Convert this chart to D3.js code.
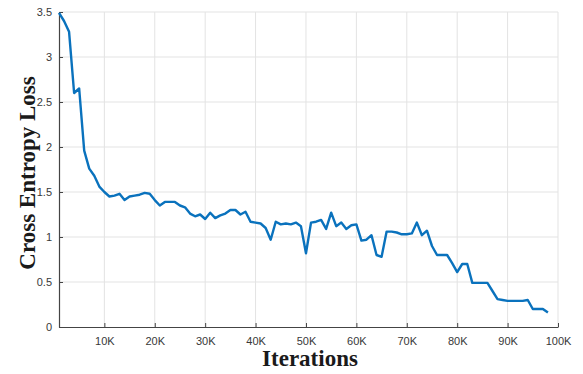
<!DOCTYPE html>
<html>
<head>
<meta charset="utf-8">
<script src="https://cdn.jsdelivr.net/npm/d3@7"></script>
<style>
  html, body { margin: 0; padding: 0; background: #fff; }
  svg { display: block; }
</style>
</head>
<body>
<svg id="chart" width="583" height="374"></svg>
<script>
// Training iterations (in thousands) and the recorded cross entropy loss
const iterations = d3.range(1, 99).map(k => k * 1000);
const loss = [
  3.49, 3.40, 3.28, 2.60, 2.65, 1.96, 1.76, 1.68, 1.56, 1.50,
  1.45, 1.46, 1.48, 1.41, 1.45, 1.46, 1.47, 1.49, 1.48, 1.41,
  1.35, 1.39, 1.39, 1.39, 1.35, 1.33, 1.26, 1.23, 1.25, 1.20,
  1.27, 1.21, 1.24, 1.26, 1.30, 1.30, 1.25, 1.28, 1.17, 1.16,
  1.15, 1.10, 0.97, 1.17, 1.14, 1.15, 1.14, 1.16, 1.12, 0.82,
  1.16, 1.17, 1.19, 1.09, 1.27, 1.12, 1.16, 1.09, 1.13, 1.14,
  0.96, 0.97, 1.02, 0.80, 0.78, 1.06, 1.06, 1.05, 1.03, 1.03,
  1.04, 1.16, 1.02, 1.07, 0.90, 0.80, 0.80, 0.80, 0.71, 0.61,
  0.70, 0.70, 0.49, 0.49, 0.49, 0.49, 0.40, 0.31, 0.30, 0.29,
  0.29, 0.29, 0.29, 0.30, 0.20, 0.20, 0.20, 0.16
];
const xTicks = [10000, 20000, 30000, 40000, 50000, 60000, 70000, 80000, 90000, 100000];
const yTicks = [0, 0.5, 1, 1.5, 2, 2.5, 3, 3.5];

const svg = d3.select("#chart");
const plotLeft = 59, plotRight = 558, plotTop = 12, plotBottom = 327;

const x = d3.scaleLinear().domain([1000, 100000]).range([plotLeft, plotRight]);
const y = d3.scaleLinear().domain([0, 3.5]).range([plotBottom, plotTop]);

// grid
const grid = svg.append("g");
grid.selectAll("line.vg").data(xTicks).join("line")
  .attr("x1", d => x(d)).attr("x2", d => x(d))
  .attr("y1", plotTop).attr("y2", plotBottom)
  .attr("stroke", "#e3e3e3").attr("stroke-width", 1);
grid.selectAll("line.hg").data(yTicks.filter(d => d > 0)).join("line")
  .attr("x1", plotLeft).attr("x2", plotRight)
  .attr("y1", d => y(d)).attr("y2", d => y(d))
  .attr("stroke", "#e3e3e3").attr("stroke-width", 1);

// axes (ticks point inward)
const fmtK = d => (d / 1000) + "K";
const xAxis = svg.append("g").attr("transform", `translate(0,${plotBottom})`)
  .call(d3.axisBottom(x).tickValues(xTicks).tickFormat(fmtK).tickSizeInner(-4).tickSizeOuter(0).tickPadding(10));
const yAxis = svg.append("g").attr("transform", `translate(${plotLeft},0)`)
  .call(d3.axisLeft(y).tickValues(yTicks).tickFormat(d3.format("~g")).tickSizeInner(-4).tickSizeOuter(0).tickPadding(7));

[xAxis, yAxis].forEach(a => {
  a.select(".domain").attr("stroke", "#444").attr("stroke-width", 1.2);
  a.selectAll(".tick line").attr("stroke", "#444");
  a.selectAll(".tick text")
    .attr("fill", "#383838")
    .style("font-family", "Arial, 'Liberation Sans', Helvetica, sans-serif")
    .style("font-size", "11px");
});

// loss curve
const line = d3.line().x((d, i) => x(iterations[i])).y(d => y(d));
svg.append("path").datum(loss)
  .attr("d", line)
  .attr("fill", "none")
  .attr("stroke", "#0a72bd")
  .attr("stroke-width", 2.4)
  .attr("stroke-linejoin", "round");

// axis titles
svg.append("text")
  .attr("x", 310).attr("y", 366)
  .attr("text-anchor", "middle")
  .style("font-family", "'Times New Roman', 'Liberation Serif', serif")
  .style("font-weight", "bold").style("font-size", "23px")
  .attr("fill", "#1a1a1a")
  .text("Iterations");

svg.append("text")
  .attr("transform", "translate(35,173) rotate(-90)")
  .attr("text-anchor", "middle")
  .style("font-family", "'Times New Roman', 'Liberation Serif', serif")
  .style("font-weight", "bold").style("font-size", "23px")
  .attr("fill", "#1a1a1a")
  .text("Cross Entropy Loss");
</script>
</body>
</html>
